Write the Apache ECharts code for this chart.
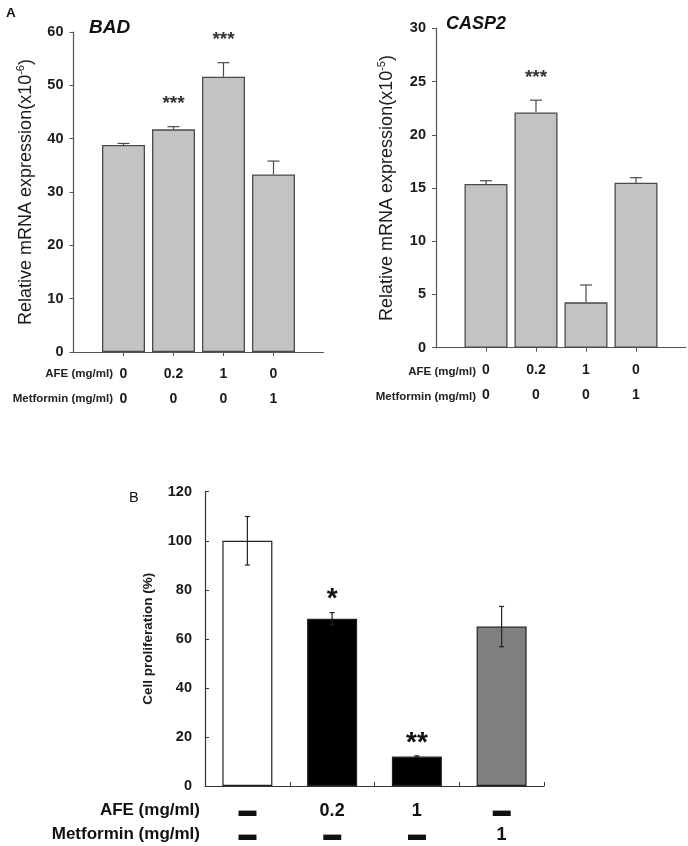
<!DOCTYPE html>
<html>
<head>
<meta charset="utf-8">
<script src="https://cdn.jsdelivr.net/npm/echarts@6/dist/echarts.min.js"></script>
<style>
html,body{margin:0;padding:0;background:#fff;}
#c{width:688px;height:846px;}
</style>
</head>
<body>
<div id="c"></div>
<script>
// ---------- data ----------
const posA = [1, 2, 3, 4];
const afeA = ['0', '0.2', '1', '0'];
const metA = ['0', '0', '0', '1'];
const badMean = [38.8, 41.75, 51.6, 33.3];
const badSd = [0.3, 0.5, 2.65, 2.5];
const badStars = ['', '***', '***', ''];
const caspMean = [15.38, 22.1, 4.26, 15.5];
const caspSd = [0.3, 1.15, 1.63, 0.47];
const caspStars = ['', '***', '', ''];
const catsB = ['0', '1', '2', '3'];
const afeB = ['▬', '0.2', '1', '▬'];
const metB = ['▬', '▬', '▬', '1'];
const prolMean = [100, 68.2, 12, 65];
const prolSd = [9.9, 2.5, 0.3, 8.2];
const prolStars = ['', '*', '**', ''];
const prolColors = ['#ffffff', '#000000', '#000000', '#808080'];

const FF = 'Liberation Sans, Arial, sans-serif';

function errSeries(xi, yi, xs, means, sds, stars, opt) {
  return {
    type: 'custom', xAxisIndex: xi, yAxisIndex: yi, z: 5,
    data: xs.map((x, i) => [x, means[i], sds[i]]),
    renderItem: function (params, api) {
      const i = params.dataIndex;
      const x = api.value(0), m = api.value(1), s = api.value(2);
      const top = api.coord([x, m + s]);
      const bot = api.coord([x, opt.both ? m - s : m]);
      const cw = opt.cap / 2;
      const ls = { stroke: opt.color, lineWidth: opt.lw };
      const ch = [
        { type: 'line', shape: { x1: top[0], y1: top[1], x2: bot[0], y2: bot[1] }, style: ls },
        { type: 'line', shape: { x1: top[0] - cw, y1: top[1], x2: top[0] + cw, y2: top[1] }, style: ls }
      ];
      if (opt.both) ch.push({ type: 'line', shape: { x1: bot[0] - cw, y1: bot[1], x2: bot[0] + cw, y2: bot[1] }, style: ls });
      if (stars[i]) ch.push({ type: 'text', x: top[0], y: top[1] - opt.gap,
        style: { text: stars[i], fill: opt.starColor, font: opt.starFont, textAlign: 'center', textVerticalAlign: 'middle' } });
      return { type: 'group', children: ch };
    }
  };
}

const yNameRich = {
  a: { fontSize: 18, fontFamily: FF, color: '#1a1a1a', lineHeight: 22 },
  s: { fontSize: 11, fontFamily: FF, color: '#1a1a1a', verticalAlign: 'top', lineHeight: 22 }
};

function axisA(gi, max, interval, name, nameGap) {
  return {
    x: {
      gridIndex: gi, type: 'value', min: 0, max: 5, interval: 1,
      axisLine: { lineStyle: { color: '#555', width: 1.2 } },
      axisTick: { show: true, inside: false, length: 4, customValues: posA, lineStyle: { color: '#555' } },
      splitLine: { show: false },
      axisLabel: {
        customValues: posA, margin: 10,
        formatter: v => '{r1|' + afeA[v - 1] + '}\n{r2|' + metA[v - 1] + '}',
        rich: {
          r1: { fontSize: 14, fontWeight: 'bold', fontFamily: FF, color: '#1a1a1a', lineHeight: 25 },
          r2: { fontSize: 14, fontWeight: 'bold', fontFamily: FF, color: '#1a1a1a', lineHeight: 25 }
        }
      }
    },
    y: {
      gridIndex: gi, type: 'value', min: 0, max: max, interval: interval,
      name: name, nameLocation: 'middle', nameGap: nameGap,
      nameTextStyle: { rich: yNameRich },
      axisLine: { show: true, lineStyle: { color: '#555', width: 1.2 } },
      axisTick: { show: true, inside: false, length: 4, lineStyle: { color: '#555' } },
      splitLine: { show: false },
      axisLabel: { margin: 10, fontSize: 14.5, fontWeight: 'bold', fontFamily: FF, color: '#1a1a1a' }
    }
  };
}

const aBad = axisA(0, 60, 10, '{a|Relative mRNA expression(x10}{s|-6}{a|)}', 36);
const aCasp = axisA(1, 30, 5, '{a|Relative mRNA expression(x10}{s|-5}{a|)}', 38);

const option = {
  animation: false,
  backgroundColor: '#ffffff',
  grid: [
    { left: 73.5, top: 32, width: 250, height: 320 },
    { left: 436, top: 28.3, width: 250, height: 319.4 },
    { left: 205, top: 491.7, width: 339, height: 294.3 }
  ],
  xAxis: [
    aBad.x, aCasp.x,
    {
      gridIndex: 2, type: 'category', data: catsB, boundaryGap: true,
      axisLine: { lineStyle: { color: '#333', width: 1.2 } },
      axisTick: { show: true, inside: true, length: 4, alignWithLabel: false, lineStyle: { color: '#333' } },
      axisLabel: {
        margin: 13, interval: 0,
        formatter: (v, i) => '{r1|' + afeB[i] + '}\n{r2|' + metB[i] + '}',
        rich: {
          r1: { fontSize: 18, fontWeight: 'bold', fontFamily: FF, color: '#111', lineHeight: 24 },
          r2: { fontSize: 18, fontWeight: 'bold', fontFamily: FF, color: '#111', lineHeight: 24 }
        }
      }
    }
  ],
  yAxis: [
    aBad.y, aCasp.y,
    {
      gridIndex: 2, type: 'value', min: 0, max: 120, interval: 20,
      name: 'Cell proliferation (%)', nameLocation: 'middle', nameGap: 50,
      nameTextStyle: { fontSize: 13.5, fontWeight: 'bold', fontFamily: FF, color: '#1a1a1a' },
      axisLine: { show: true, lineStyle: { color: '#333', width: 1.2 } },
      axisTick: { show: true, inside: true, length: 4, lineStyle: { color: '#333' } },
      splitLine: { show: false },
      axisLabel: { margin: 13, fontSize: 14.5, fontWeight: 'bold', fontFamily: FF, color: '#1a1a1a' }
    }
  ],
  title: [
    { text: 'A', left: 1, top: 1, textStyle: { fontSize: 13.5, fontWeight: 'bold', fontFamily: FF, color: '#111' } },
    { text: 'BAD', left: 84, top: 13, textStyle: { fontSize: 19, fontWeight: 'bold', fontStyle: 'italic', fontFamily: FF, color: '#111' } },
    { text: 'CASP2', left: 441, top: 10, textStyle: { fontSize: 18, fontWeight: 'bold', fontStyle: 'italic', fontFamily: FF, color: '#111' } },
    { text: 'B', left: 124, top: 485, textStyle: { fontSize: 14.5, fontWeight: 'normal', fontFamily: FF, color: '#111' } }
  ],
  graphic: [
    { type: 'text', right: 688 - 113, top: 368, style: { text: 'AFE (mg/ml)', font: 'bold 11.5px ' + FF, fill: '#222' } },
    { type: 'text', right: 688 - 113, top: 393, style: { text: 'Metformin (mg/ml)', font: 'bold 11.5px ' + FF, fill: '#222' } },
    { type: 'text', right: 688 - 476, top: 366, style: { text: 'AFE (mg/ml)', font: 'bold 11.5px ' + FF, fill: '#222' } },
    { type: 'text', right: 688 - 476, top: 391, style: { text: 'Metformin (mg/ml)', font: 'bold 11.5px ' + FF, fill: '#222' } },
    { type: 'text', right: 688 - 200, top: 802, style: { text: 'AFE (mg/ml)', font: 'bold 17px ' + FF, fill: '#111' } },
    { type: 'text', right: 688 - 200, top: 826, style: { text: 'Metformin (mg/ml)', font: 'bold 17px ' + FF, fill: '#111' } }
  ],
  series: [
    {
      type: 'bar', xAxisIndex: 0, yAxisIndex: 0, barWidth: 43,
      data: posA.map((x, i) => [x, badMean[i]]),
      itemStyle: { color: '#c3c3c3', borderColor: '#4a4a4a', borderWidth: 1.3 }
    },
    errSeries(0, 0, posA, badMean, badSd, badStars, { both: false, cap: 12, color: '#4a4a4a', lw: 1.2, gap: 23, starFont: 'bold 19px ' + FF, starColor: '#333' }),
    {
      type: 'bar', xAxisIndex: 1, yAxisIndex: 1, barWidth: 43,
      data: posA.map((x, i) => [x, caspMean[i]]),
      itemStyle: { color: '#c3c3c3', borderColor: '#4a4a4a', borderWidth: 1.3 }
    },
    errSeries(1, 1, posA, caspMean, caspSd, caspStars, { both: false, cap: 12, color: '#4a4a4a', lw: 1.2, gap: 22, starFont: 'bold 19px ' + FF, starColor: '#333' }),
    {
      type: 'bar', xAxisIndex: 2, yAxisIndex: 2, barWidth: 50,
      data: prolMean.map((v, i) => ({ value: v, itemStyle: { color: prolColors[i] } })),
      itemStyle: { borderColor: '#222', borderWidth: 1.2 }
    },
    errSeries(2, 2, [0, 1, 2, 3], prolMean, prolSd, prolStars, { both: true, cap: 5, color: '#222', lw: 1.2, gap: 13, starFont: 'bold 28px ' + FF, starColor: '#111' })
  ]
};

const chart = echarts.init(document.getElementById('c'), null, { renderer: 'canvas' });
chart.setOption(option);
</script>
</body>
</html>
